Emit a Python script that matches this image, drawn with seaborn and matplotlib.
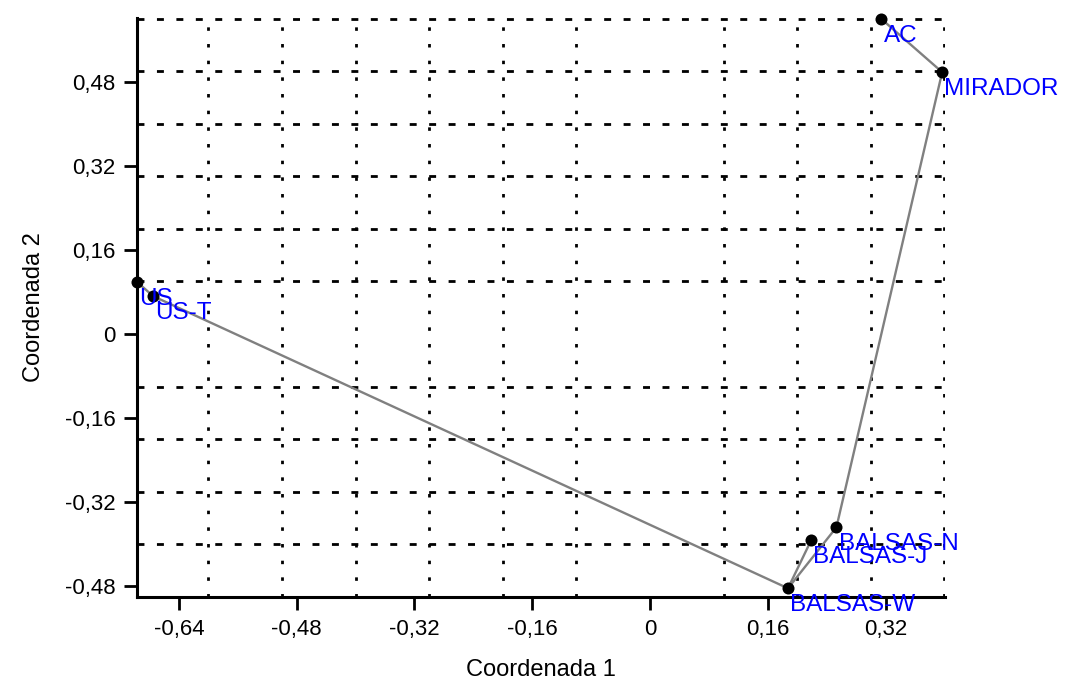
import numpy as np
import pandas as pd
import matplotlib
matplotlib.use("Agg")
import matplotlib.pyplot as plt
import seaborn as sns

# Coordenadas
nomes = ["AC", "MIRADOR", "US", "US-T", "BALSAS-W", "BALSAS-J", "BALSAS-N"]
coord1 = [0.3145, 0.397, -0.697, -0.675, 0.1875, 0.219, 0.2533]
coord2 = [0.599, 0.498, 0.099, 0.072, -0.4835, -0.392, -0.3675]

# arestas da arvore (minimum spanning tree)
arestas = [("AC", "MIRADOR"), ("MIRADOR", "BALSAS-N"), ("BALSAS-N", "BALSAS-W"),
           ("BALSAS-W", "BALSAS-J"), ("BALSAS-W", "US-T"), ("US-T", "US")]

ticks_x = [-0.64, -0.48, -0.32, -0.16, 0, 0.16, 0.32]
ticks_y = [-0.48, -0.32, -0.16, 0, 0.16, 0.32, 0.48]
grade_x = [-0.6, -0.5, -0.4, -0.3, -0.2, -0.1, 0.0, 0.1, 0.2, 0.3, 0.4]
grade_y = [-0.4, -0.3, -0.2, -0.1, 0.0, 0.1, 0.2, 0.3, 0.4, 0.5, 0.6]

df = pd.DataFrame({"Nome": nomes, "C1": coord1, "C2": coord2})

sns.set_style("white")
plt.rcParams["font.family"] = ["Liberation Sans", "DejaVu Sans"]
plt.rcParams["lines.scale_dashes"] = False

fig = plt.figure(figsize=(10.74, 6.84), dpi=100)
ax = fig.add_axes([0.1276, 0.1272, 0.7524, 0.8465])

pos = df.set_index("Nome")
for a, b in arestas:
    ax.plot([pos.loc[a, "C1"], pos.loc[b, "C1"]], [pos.loc[a, "C2"], pos.loc[b, "C2"]],
            color="#808080", lw=1.7, zorder=3)

sns.scatterplot(data=df, x="C1", y="C2", color="black", s=75, edgecolor="black",
                linewidth=0, zorder=4, ax=ax, clip_on=False)

for _, r in df.iterrows():
    ax.annotate(r["Nome"], (r["C1"], r["C2"]), xytext=(1.5, -4), textcoords="offset points",
                ha="left", va="top", color="#0000ff", fontsize=17.5, zorder=5,
                annotation_clip=False)

ax.set_xlim(-0.697, 0.401)
ax.set_ylim(-0.5, 0.601)

ax.set_xticks(ticks_x)
ax.set_xticklabels([("%g" % t).replace(".", ",") for t in ticks_x])
ax.set_yticks(ticks_y)
ax.set_yticklabels([("%g" % t).replace(".", ",") for t in ticks_y])
ax.set_xticks(grade_x, minor=True)
ax.set_yticks(grade_y, minor=True)
ax.tick_params(which="major", direction="out", length=9.5, width=2, labelsize=16,
               colors="black", pad=6, left=True, bottom=True)
ax.tick_params(which="minor", length=0)

ax.xaxis.grid(True, which="minor", color="black", lw=2, linestyle=(0, (2.5, 9.5)))
ax.yaxis.grid(True, which="minor", color="black", lw=2, linestyle=(0, (5, 9)))
ax.xaxis.grid(False, which="major")
ax.yaxis.grid(False, which="major")

sns.despine(ax=ax)
for lado in ["left", "bottom"]:
    ax.spines[lado].set_linewidth(2.2)
    ax.spines[lado].set_color("black")

ax.set_xlabel("Coordenada 1", fontsize=17, labelpad=14, color="black")
ax.set_ylabel("Coordenada 2", fontsize=17, labelpad=14, color="black")

fig.savefig("out.png", dpi=100)
